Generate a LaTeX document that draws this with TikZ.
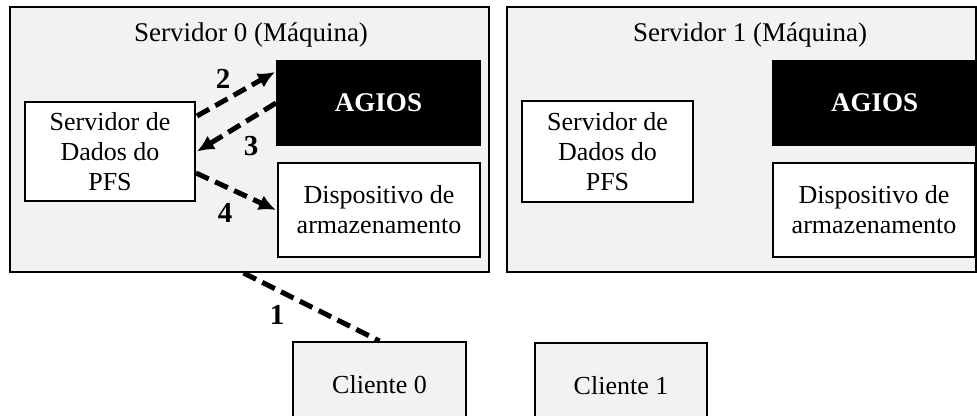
\documentclass[tikz,border=0pt]{standalone}
\usepackage{fontspec}
\setmainfont{Liberation Serif}
\usetikzlibrary{arrows.meta,positioning,calc}
\definecolor{boxgray}{RGB}{242,242,242}

\tikzset{
  machine/.style={draw,line width=1pt,fill=boxgray},
  part/.style={draw,line width=1pt,fill=white,align=center,font=\fontsize{13}{15}\selectfont},
  sched/.style={draw,line width=1pt,fill=black,text=white,font=\fontsize{13.5}{15}\selectfont\bfseries},
  client/.style={draw,line width=1pt,fill=boxgray,font=\fontsize{13}{15}\selectfont},
  flow/.style={line width=2.5pt,dash pattern=on 7pt off 3.5pt,-{Latex[length=8.5pt,width=8pt]}},
  step label/.style={font=\fontsize{14.5}{16}\selectfont\bfseries}
}

\begin{document}
\begin{tikzpicture}[x=0.5pt,y=-0.5pt]
\clip (0,0) rectangle (977,416);
\fill[white] (0,0) rectangle (977,416);
% servers
\node[machine,minimum width=239.5pt,minimum height=132.5pt] (srv0) at (249.5,139.5) {};
\node[machine,minimum width=234.5pt,minimum height=132.5pt] (srv1) at (741.5,139.5) {};
\node[font=\fontsize{13.5}{15}\selectfont] (title0) at (251,35) {Servidor 0 (Máquina)};
\node[font=\fontsize{13.5}{15}\selectfont] (title1) at (750,35) {Servidor 1 (Máquina)};
% server 0 parts
\node[part,minimum width=85pt,minimum height=49.5pt] (pfs0) at (110,151.5) {Servidor de\\Dados do\\PFS};
\node[sched,minimum width=101.5pt,minimum height=42pt] (agios0) at (378.5,103) {AGIOS};
\node[part,minimum width=101pt,minimum height=47pt] (disp0) at (379,210) {Dispositivo de\\armazenamento};
% server 1 parts
\node[part,minimum width=85.5pt,minimum height=50.5pt] (pfs1) at (607.5,151.5) {Servidor de\\Dados do\\PFS};
\node[sched,minimum width=101.5pt,minimum height=42pt] (agios1) at (874.5,103) {AGIOS};
\node[part,minimum width=101pt,minimum height=47pt] (disp1) at (874,210) {Dispositivo de\\armazenamento};
% clients
\node[client,minimum width=86.5pt,minimum height=43pt] (cli0) at (379.5,385) {Cliente 0};
\node[client,minimum width=86pt,minimum height=43pt] (cli1) at (621,386) {Cliente 1};
% request flow
\draw[flow,-] ($(srv0.south)+(-6,0)$) -- (cli0.north);
\draw[flow] ($(pfs0.north east)+(1,15)$) -- ($(agios0.north west)+(-1,12)$);
\draw[flow] (agios0.west) -- ($(pfs0.east)+(1,0)$);
\draw[flow] ($(pfs0.south east)+(0,-29)$) -- ($(disp0.west)+(-1,0)$);
\node[step label] (n1) at (277,315) {1};
\node[step label] (n2) at (223,79) {2};
\node[step label] (n3) at (251,146) {3};
\node[step label] (n4) at (225,213) {4};
\end{tikzpicture}
\end{document}
